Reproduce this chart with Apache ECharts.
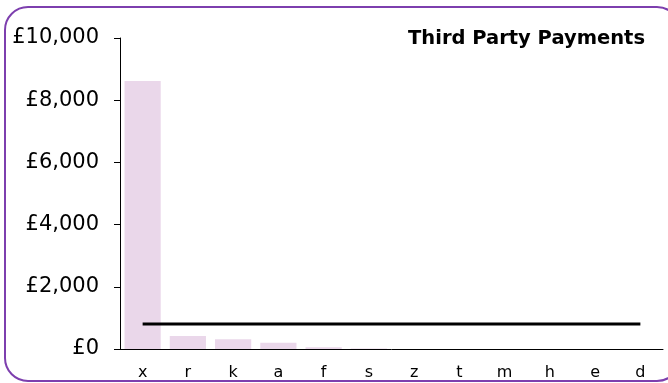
<!DOCTYPE html>
<html>
<head>
<meta charset="utf-8">
<script src="https://cdn.jsdelivr.net/npm/echarts@6/dist/echarts.min.js"></script>
<style>html,body{margin:0;padding:0;background:#fff;overflow:hidden;}#c{width:668px;height:383px;}</style>
</head>
<body>
<div id="c"></div>
<script>
const categories = ['x','r','k','a','f','s','z','t','m','h','e','d'];
const payments = [8620, 420, 310, 200, 60, 15, 0, 0, 0, 0, 0, 0];
const average = [800, 800, 800, 800, 800, 800, 800, 800, 800, 800, 800, 800];
const yTicks = { min: 0, max: 10000, interval: 2000 };
const titleText = 'Third Party Payments';

const chart = echarts.init(document.getElementById('c'), null, { renderer: 'canvas' });
chart.setOption({
  animation: false,
  backgroundColor: '#fff',
  textStyle: { fontFamily: 'DejaVu Sans' },
  graphic: [{
    type: 'rect', silent: true, z: -1,
    shape: { x: 5, y: 7, width: 675, height: 374, r: 23 },
    style: { fill: 'none', stroke: '#7d3fae', lineWidth: 2 }
  }],
  title: {
    text: titleText, right: 18, top: 24,
    textStyle: { fontFamily: 'DejaVu Sans', fontWeight: 'bold', fontSize: 19.5, color: '#000' }
  },
  grid: { left: 120, right: 5, top: 38, bottom: 34, containLabel: false },
  xAxis: {
    type: 'category', data: categories,
    axisLine: { lineStyle: { color: '#000', width: 1 } },
    axisTick: { show: false },
    axisLabel: { color: '#000', fontSize: 16, margin: 16, fontFamily: 'DejaVu Sans' }
  },
  yAxis: {
    type: 'value', min: yTicks.min, max: yTicks.max, interval: yTicks.interval,
    axisLine: { show: true, lineStyle: { color: '#000', width: 1 } },
    axisTick: { show: true, length: 6, lineStyle: { color: '#000' } },
    splitLine: { show: false },
    axisLabel: { color: '#000', fontSize: 21, margin: 21, fontFamily: 'DejaVu Sans',
      formatter: v => '£' + v.toLocaleString('en-GB') }
  },
  series: [
    { type: 'bar', data: payments, barCategoryGap: '20%',
      itemStyle: { color: '#ead7ea' } },
    { type: 'line', data: average, symbol: 'none',
      lineStyle: { color: '#000', width: 3 } }
  ]
});
</script>
</body>
</html>
